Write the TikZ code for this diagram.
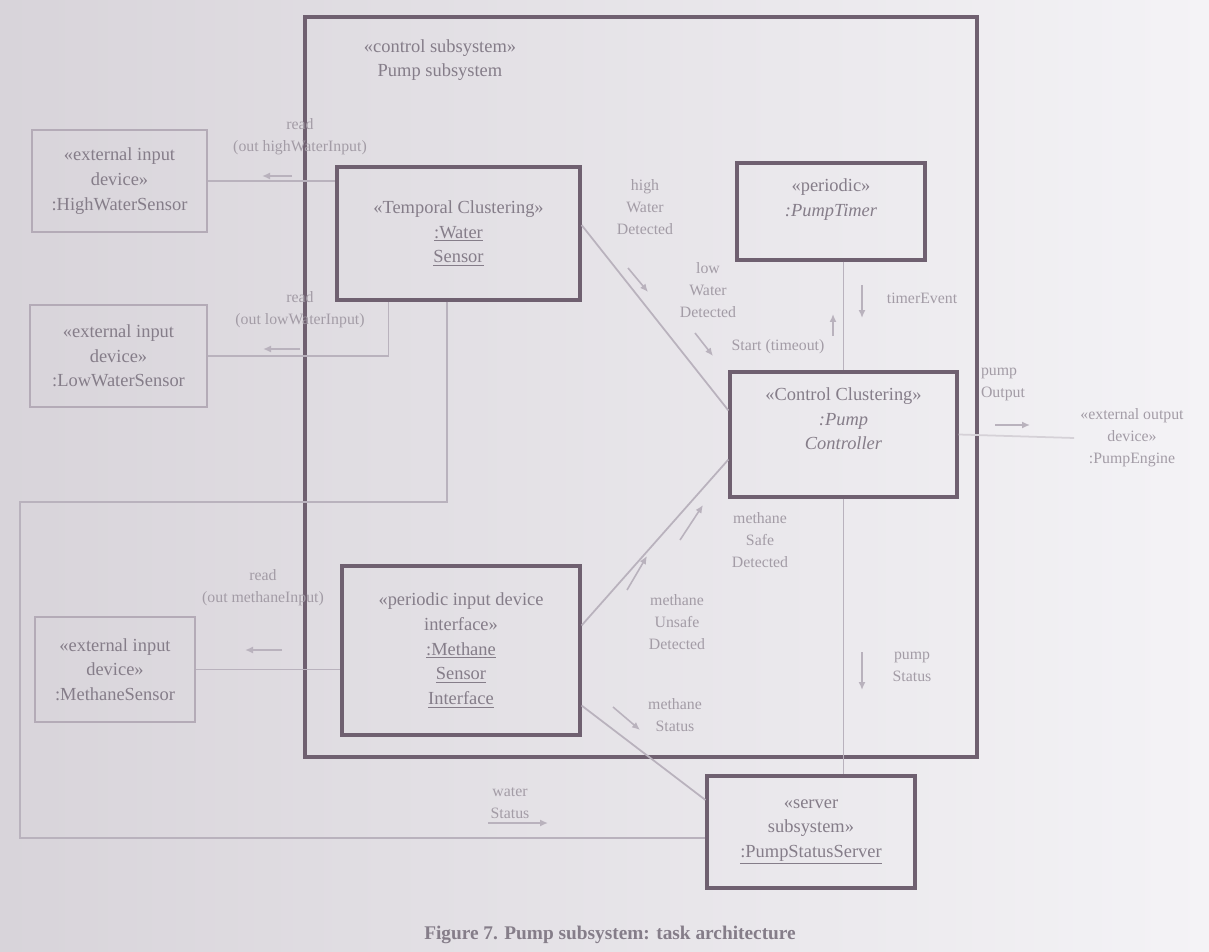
\documentclass[tikz,border=0pt]{standalone}
\usepackage{fontspec}
\setmainfont{Liberation Serif}
\usepackage{xcolor}
\usepackage{tikz}
\usetikzlibrary{arrows.meta,positioning,calc}
\definecolor{paperl}{HTML}{D8D4DA}
\definecolor{paperm}{HTML}{ECEBEE}
\definecolor{paperr}{HTML}{F4F3F6}
\definecolor{framec}{HTML}{6F6070}
\definecolor{extc}{HTML}{B4ABB7}
\definecolor{wirec}{HTML}{B9B2BD}
\definecolor{inkc}{HTML}{857D89}
\definecolor{faintc}{HTML}{A39CA6}

\begin{document}
\begin{tikzpicture}[
  x=0.02cm, y=-0.02cm,
  boxfont/.style={font=\fontsize{10.5}{14}\selectfont},
  task/.style={draw=framec, line width=1.8pt, align=center, text=inkc, boxfont, inner sep=2pt},
  extdev/.style={draw=extc, line width=1.1pt, align=center, text=inkc, boxfont, inner sep=2pt},
  msglbl/.style={align=center, text=faintc, font=\fontsize{9}{12.5}\selectfont, inner sep=1pt},
  wire/.style={draw=wirec, line width=1pt},
  flow/.style={-{Latex[length=1.6mm,width=1.4mm]}, draw=wirec, line width=0.9pt}
]
  \useasboundingbox (0,0) rectangle (1209,952);
  \shade[left color=paperl, middle color=paperm, right color=paperr] (0,0) rectangle (1209,952);

  % pump subsystem boundary
  \draw[draw=framec, line width=1.8pt] (305,17) rectangle (977,757);
  \node[text=inkc, boxfont, align=center] (psub) at (440,60) {«control subsystem»\\Pump subsystem};

  % external devices
  \node[extdev, minimum width=3.5cm, minimum height=2.04cm] (hws) at (119.5,181) {«external input\\device»\\:HighWaterSensor};
  \node[extdev, minimum width=3.54cm, minimum height=2.04cm] (lws) at (118.5,356) {«external input\\device»\\:LowWaterSensor};
  \node[extdev, minimum width=3.2cm, minimum height=2.1cm] (ms) at (115,669.5) {«external input\\device»\\:MethaneSensor};
  \node[align=center, text=faintc, font=\fontsize{9}{12.5}\selectfont] (peng) at (1132,438) {«external output\\device»\\:PumpEngine};

  % tasks
  \node[task, minimum width=4.86cm, minimum height=2.66cm] (wsense) at (458.5,233.5) {«Temporal Clustering»\\\underline{:Water}\\\underline{Sensor}};
  \node[task, minimum width=4.76cm, minimum height=3.38cm] (msi) at (461,650.5) {«periodic input device\\interface»\\\underline{:Methane}\\\underline{Sensor}\\\underline{Interface}};
  \node[task, minimum width=3.76cm, minimum height=1.94cm] (ptimer) at (831,211.5) {«periodic»\\\textit{:PumpTimer}\\[2pt]};
  \node[task, minimum width=4.54cm, minimum height=2.5cm] (pctrl) at (843.5,434.5) {«Control Clustering»\\\textit{:Pump}\\\textit{Controller}\\[4pt]};
  \node[task, minimum width=4.16cm, minimum height=2.24cm] (pss) at (811,832) {«server\\subsystem»\\\underline{:PumpStatusServer}};

  % connectors
  \draw[wire] (hws.east) -- (hws.east -| wsense.west);
  \draw[wire] (lws.east) -| ([xshift=1.06cm]wsense.south west);
  \draw[wire] (ms.east) -- (ms.east -| msi.west);
  \coordinate (wbend) at (20,502);
  \draw[wire] ([xshift=-0.23cm]wsense.south) |- (wbend) |- ([yshift=-0.12cm]pss.west);
  \draw[wire] ([yshift=0.17cm]wsense.east) -- ([yshift=0.48cm]pctrl.west);
  \draw[wire] ([yshift=0.5cm]msi.east) -- ([yshift=-0.5cm]pctrl.west);
  \draw[wire] ([yshift=-1.1cm]msi.east) -- ([yshift=0.64cm]pss.west);
  \draw[wire] (ptimer.south -| pctrl.north) -- (pctrl.north);
  \draw[wire] (pctrl.south) -- (pctrl.south |- pss.north);
  \draw[wire, draw=wirec!60] (pctrl.east) -- (peng.west);

  % message labels
  \node[msglbl] (l_hw) at (300,137) {read\\(out highWaterInput)};
  \node[msglbl] (l_lw) at (300,310) {read\\(out lowWaterInput)};
  \node[msglbl] (l_me) at (263,588) {read\\(out methaneInput)};
  \node[msglbl] (l_hwd) at (645,207) {high\\Water\\Detected};
  \node[msglbl] (l_lwd) at (708,290) {low\\Water\\Detected};
  \node[msglbl] (l_st) at (778,347) {Start (timeout)};
  \node[msglbl] (l_te) at (922,298) {timerEvent};
  \node[msglbl] (l_msd) at (760,540) {methane\\Safe\\Detected};
  \node[msglbl] (l_mud) at (677,622) {methane\\Unsafe\\Detected};
  \node[msglbl] (l_mst) at (675,715) {methane\\Status};
  \node[msglbl] (l_pst) at (912,667) {pump\\Status};
  \node[msglbl] (l_wst) at (510,803) {water\\Status};
  \node[msglbl, align=left] (l_po) at (1003,384) {pump\\Output};

  % message direction arrows
  \coordinate (a_hw0) at (292,176);  \coordinate (a_hw1) at (262,176);
  \coordinate (a_lw0) at (300,349);  \coordinate (a_lw1) at (263,349);
  \coordinate (a_me0) at (282,650);  \coordinate (a_me1) at (245,650);
  \coordinate (a_hd0) at (628,268);  \coordinate (a_hd1) at (648,292);
  \coordinate (a_ld0) at (695,333);  \coordinate (a_ld1) at (713,356);
  \coordinate (a_te0) at (862,285);  \coordinate (a_te1) at (862,318);
  \coordinate (a_st0) at (833,336);  \coordinate (a_st1) at (833,314);
  \coordinate (a_sd0) at (680,540);  \coordinate (a_sd1) at (703,505);
  \coordinate (a_ud0) at (627,590);  \coordinate (a_ud1) at (647,556);
  \coordinate (a_ms0) at (613,707);  \coordinate (a_ms1) at (640,730);
  \coordinate (a_ps0) at (862,652);  \coordinate (a_ps1) at (862,690);
  \coordinate (a_ws0) at (488,823);  \coordinate (a_ws1) at (548,823);
  \coordinate (a_po0) at (995,425);  \coordinate (a_po1) at (1030,425);
  \foreach \m in {hw,lw,me,hd,ld,te,st,sd,ud,ms,ps,ws,po}
    \draw[flow] (a_\m0) -- (a_\m1);

  \node[text=inkc, font=\fontsize{11}{13}\selectfont\bfseries] (cap) at (610,935) {Figure 7. Pump subsystem: task architecture};
\end{tikzpicture}
\end{document}
